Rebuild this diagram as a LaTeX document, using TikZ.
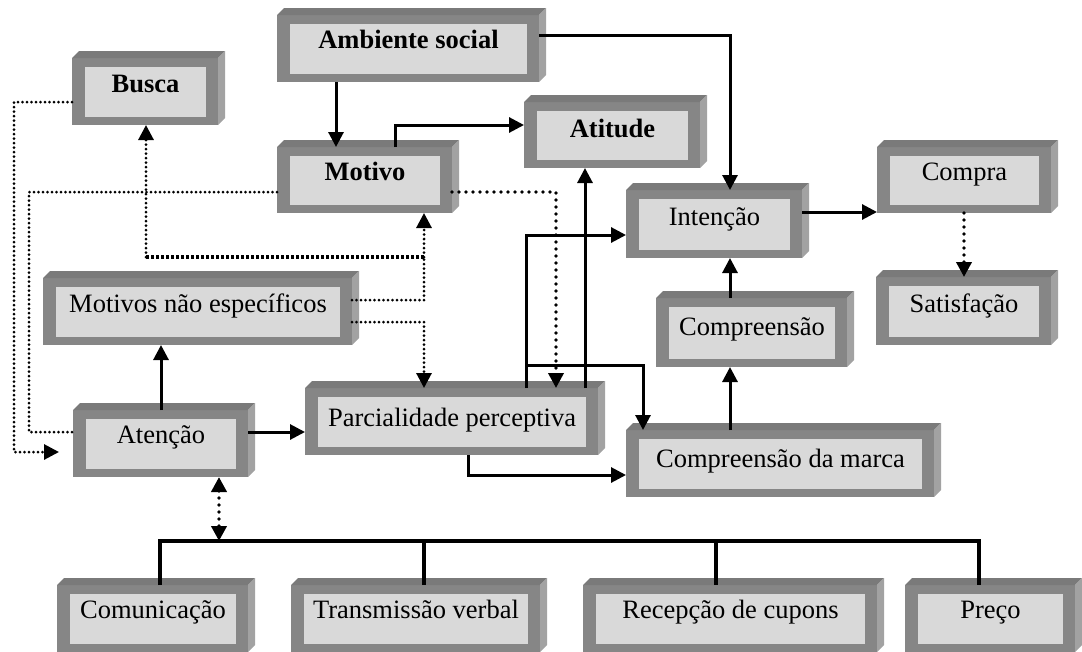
\documentclass[tikz,border=0pt]{standalone}
\usepackage{fontspec}
\setmainfont{Liberation Serif}
\usetikzlibrary{arrows.meta}
\definecolor{frontg}{HTML}{868686}
\definecolor{topg}{HTML}{7A7A7A}
\definecolor{sideg}{HTML}{A2A2A2}
\definecolor{innerg}{HTML}{D9D9D9}
\tikzset{
  frontbox/.style={fill=frontg, draw=none, inner sep=0pt, outer sep=0pt},
  lbl/.style={inner sep=0pt, outer sep=0pt, font=\fontsize{26.5pt}{30pt}\selectfont},
  tip/.style={-{Triangle[length=15pt,width=15pt]}},
  sol/.style={line width=3pt, tip},
  dotl/.style={line width=3pt, line cap=round, dash pattern=on 0pt off 4.5pt},
  dotm/.style={line width=3.6pt, line cap=round, dash pattern=on 0pt off 7pt},
  dotk/.style={line width=3.8pt, line cap=round, dash pattern=on 0pt off 7pt},
  dotd/.style={line width=3.4pt, dash pattern=on 3pt off 2pt},
  bus/.style={line width=3.6pt},
}
% #1 name, #2 x0, #3 y0, #4 x1, #5 y1, #6 baseline offset, #7 text
\newcommand{\tdbox}[7]{%
  \node[frontbox, minimum width={(#4-#2)*1pt}, minimum height={(#5-#3)*1pt}] (#1) at ({(#2+#4)/2},{(#3+#5)/2}) {};
  \fill[topg] (#1.north west) -- ([shift={(7,-7)}]#1.north west) -- ([shift={(7,-7)}]#1.north east) -- (#1.north east) -- cycle;
  \fill[sideg] (#1.north east) -- ([shift={(7,-7)}]#1.north east) -- ([shift={(7,-7)}]#1.south east) -- (#1.south east) -- cycle;
  \fill[innerg] ([shift={(13,8.5)}]#1.north west) rectangle ([shift={(-12,-8.5)}]#1.south east);
  \node[lbl, anchor=base] (#1-t) at ({(#2+#4)/2+0.5},{#3+#6}) {#7};
}
\begin{document}
\begin{tikzpicture}[x=1pt,y=-1pt]
\useasboundingbox (0,0) rectangle (1082,651);
% boxes
\tdbox{ambiente}{277}{15}{539}{82}{33}{\bfseries Ambiente social}
\tdbox{busca}{72}{58}{218}{125}{34}{\bfseries Busca}
\tdbox{motivo}{277}{147}{452}{213}{33}{\bfseries Motivo}
\tdbox{atitude}{524}{102}{700}{168}{35}{\bfseries Atitude}
\tdbox{intencao}{626}{190}{802}{258}{35}{Intenção}
\tdbox{compra}{877}{147}{1051}{213}{33}{Compra}
\tdbox{motivosne}{43}{278}{352}{345}{34}{Motivos não específicos}
\tdbox{atencao}{73}{410}{248}{477}{33}{Atenção}
\tdbox{parcial}{305}{388}{598}{455}{38}{Parcialidade perceptiva}
\tdbox{compreensao}{656}{298}{847}{367}{37}{Compreensão}
\tdbox{satisf}{876}{277}{1051}{345}{35}{Satisfação}
\tdbox{compmarca}{626}{430}{934}{497}{37}{Compreensão da marca}
\tdbox{comunic}{57}{585}{248}{652}{33}{Comunicação}
\tdbox{transm}{291}{585}{540}{652}{33}{Transmissão verbal}
\tdbox{recep}{583}{585}{877}{652}{33}{Recepção de cupons}
\tdbox{preco}{905}{585}{1075}{652}{33}{Preço}
% junction coordinates
\coordinate (j1) at (424,257);
\coordinate (j2) at (526,365);
\coordinate (bt) at (59,452);
\coordinate (bl) at (160,541);
\coordinate (br) at (979,541);
\coordinate (bx) at (219,541);
% solid connectors
\draw[sol] (336,0 |- ambiente.south) -- (336,0 |- motivo.north);
\draw[sol] (ambiente.east |- 0,35) -| (730,0 |- intencao.north);
\draw[sol] (395,0 |- motivo.north) |- (atitude.west |- 0,125);
\draw[sol] (161,0 |- atencao.north) -- (161,0 |- motivosne.south);
\draw[sol] (atencao.east |- 0,432) -- (parcial.west |- 0,432);
\draw[sol] (526,0 |- parcial.north) |- (intencao.west |- 0,235);
\draw[sol] (585,0 |- parcial.north) -- (585,0 |- atitude.south);
\draw[sol] (j2) -| (643,0 |- compmarca.north);
\draw[sol] (468,0 |- parcial.south) |- (compmarca.west |- 0,475);
\draw[sol] (730,0 |- compmarca.north) -- (730,0 |- compreensao.south);
\draw[sol] (730,0 |- compreensao.north) -- (730,0 |- intencao.south);
\draw[sol] (intencao.east |- 0,212) -- (compra.west |- 0,212);
% dotted connectors
\draw[dotl, tip] (busca.west |- 0,102) -| (14,452) -- (bt);
\draw[dotl] (motivo.west |- 0,192) -| (29,432) -- (atencao.west |- 0,432);
\draw[dotl] (motivosne.east |- 0,300) -| (j1);
\draw[dotl, tip] (j1) -- (424,0 |- motivo.south);
\draw[dotd] (j1) -- (146,257);
\draw[dotl, tip] (146,257) -- (146,0 |- busca.south);
\draw[dotl, tip] (motivosne.east |- 0,322) -| (424,0 |- parcial.north);
\draw[dotm, tip] (motivo.east |- 0,192) -| (556,0 |- parcial.north);
\draw[dotm, tip] (964,0 |- compra.south) -- (964,0 |- satisf.north);
\draw[dotk, {Triangle[length=15pt,width=15pt]}-{Triangle[length=15pt,width=15pt]}] (219,0 |- atencao.south) -- (bx);
% bus
\draw[bus] (160,0 |- comunic.north) -- (bl) -- (br) -- (979,0 |- preco.north);
\draw[bus] (424,0 |- bl) -- (424,0 |- transm.north);
\draw[bus] (716,0 |- bl) -- (716,0 |- recep.north);
\end{tikzpicture}
\end{document}
